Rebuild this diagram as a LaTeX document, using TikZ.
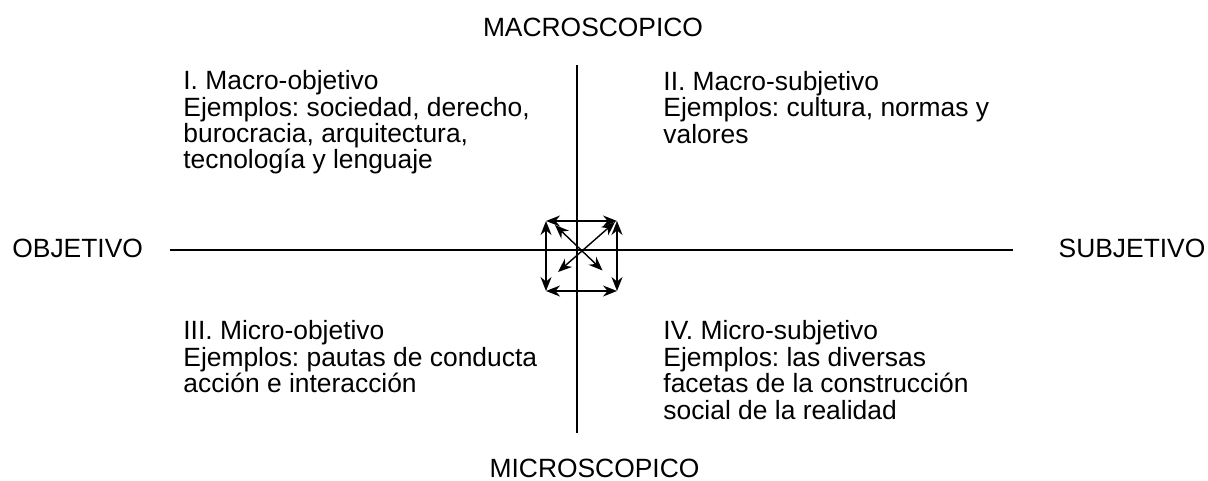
\documentclass[tikz,border=0pt]{standalone}
\usepackage{fontspec}
\setmainfont{Liberation Sans}
\usetikzlibrary{arrows.meta}
\frenchspacing
\tikzset{
  lbl/.style={inner sep=0pt, font=\fontsize{13.2pt}{13.2pt}\selectfont},
  quad/.style={lbl, align=left, anchor=north west},
  axis/.style={line width=1pt, line cap=butt},
  twoway/.style={line width=0.7pt, {Stealth[length=7pt,width=5.5pt]}-{Stealth[length=7pt,width=5.5pt]}}
}
\newcommand{\firstline}{\rule{0pt}{10pt}}
\begin{document}
\begin{tikzpicture}[x=0.5pt,y=-0.5pt]
\useasboundingbox (0,0) rectangle (1208,481);
% axis labels
\node[lbl, anchor=base] (macro) at (593,37) {MACROSCOPICO};
\node[lbl, anchor=base] (micro) at (594.5,477) {MICROSCOPICO};
\node[lbl, anchor=base west] (obj) at (12,257) {OBJETIVO};
\node[lbl, anchor=base] (subj) at (1132,257) {SUBJETIVO};
% axes
\coordinate (W) at (170,250);
\coordinate (E) at (1013,250);
\coordinate (N) at (577,65);
\coordinate (S) at (577,433);
\draw[axis] (W) -- (E);
\draw[axis] (N) -- (S);
% quadrants
\node[quad] (q1) at (183,69.3) {\firstline I. Macro-objetivo\\Ejemplos: sociedad, derecho,\\burocracia, arquitectura,\\tecnología y lenguaje};
\node[quad] (q2) at (663,69.8) {\firstline II. Macro-subjetivo\\Ejemplos: cultura, normas y\\valores};
\node[quad] (q3) at (183,319.5) {\firstline III. Micro-objetivo\\Ejemplos: pautas de conducta\\acción e interacción};
\node[quad] (q4) at (663,319.5) {\firstline IV. Micro-subjetivo\\Ejemplos: las diversas\\facetas de la construcción\\social de la realidad};
% central arrows
\coordinate (TL) at (546,221);
\coordinate (TR) at (617,221);
\coordinate (BL) at (546,291);
\coordinate (BR) at (617,291);
\coordinate (Da) at (555,225);
\coordinate (Db) at (602.5,270.5);
\coordinate (Dc) at (615,222);
\coordinate (Dd) at (558,272);
\draw[twoway] (TL) -- (TR);
\draw[twoway] (BL) -- (BR);
\draw[twoway] (TL) -- (BL);
\draw[twoway] (TR) -- (BR);
\draw[twoway] (Da) -- (Db);
\draw[twoway] (Dc) -- (Dd);
\end{tikzpicture}
\end{document}
